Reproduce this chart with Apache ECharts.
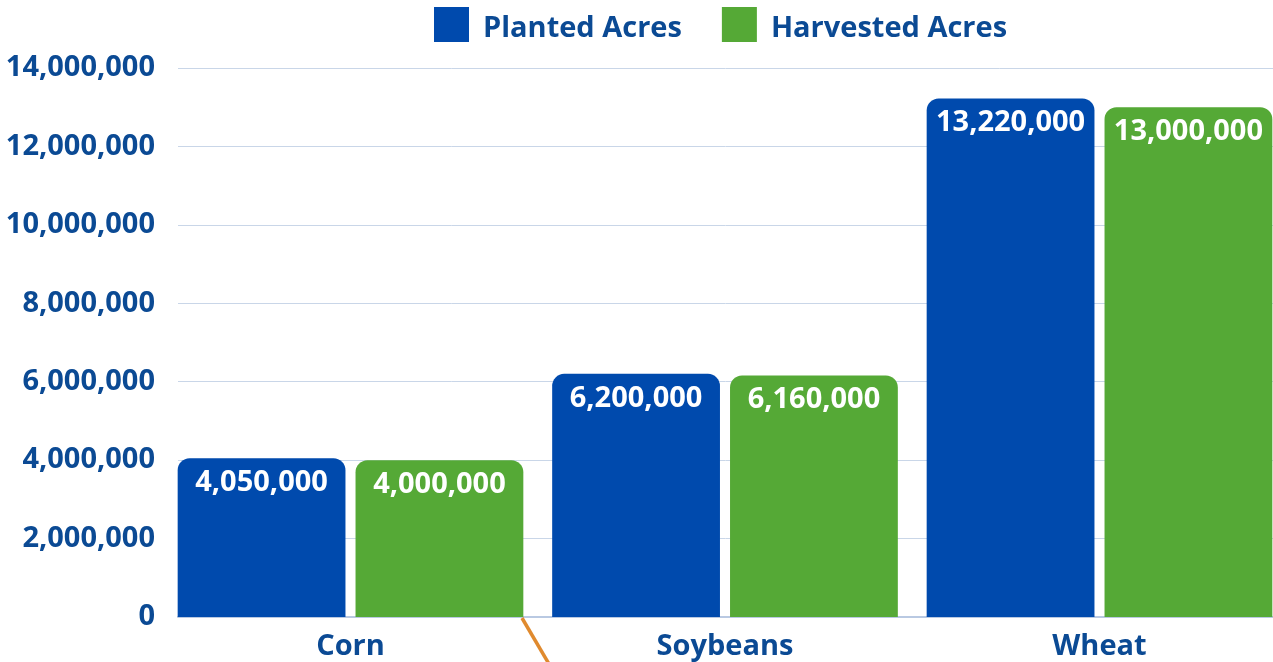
<!DOCTYPE html>
<html>
<head>
<meta charset="utf-8">
<script src="https://cdn.jsdelivr.net/npm/echarts@6/dist/echarts.min.js"></script>
<style>
  html, body { margin: 0; padding: 0; background: #ffffff; }
  #chart { width: 1273px; height: 662px; }
</style>
</head>
<body>
<div id="chart"></div>
<script>
// Crop acreage: planted vs. harvested
const categories = ['Corn', 'Soybeans', 'Wheat'];
const plantedAcres = [4050000, 6200000, 13220000];
const harvestedAcres = [4000000, 6160000, 13000000];
const yTicks = [0, 2000000, 4000000, 6000000, 8000000, 10000000, 12000000, 14000000];

const BLUE = '#004aad';
const GREEN = '#55a936';
const TEXT = '#0b4a94';
const FONT = '"Open Sans", "Noto Sans", sans-serif';
const FS = 29;

// square swatch sitting a little above the legend text's centre line
const SWATCH = 'path://M0,0h35v35h-35z M0,43h0.01v0.01h-0.01z';

const fmt = v => v.toLocaleString('en-US');

const chart = echarts.init(document.getElementById('chart'), null, { renderer: 'canvas' });

const barLabel = {
  show: true,
  position: 'insideTop',
  distance: 10,
  color: '#ffffff',
  fontFamily: FONT,
  fontWeight: 'bold',
  fontSize: FS,
  formatter: p => fmt(p.value)
};

chart.setOption({
  animation: false,
  backgroundColor: '#ffffff',
  legend: {
    left: 434,
    top: 7,
    padding: 0,
    itemWidth: 35,
    itemHeight: 43.01,
    itemGap: 40,
    icon: SWATCH,
    textStyle: {
      color: TEXT,
      fontFamily: FONT,
      fontWeight: 'bold',
      fontSize: FS,
      padding: [0, 0, 0, 9]
    },
    data: ['Planted Acres', 'Harvested Acres']
  },
  grid: [
    // bars: categories sit on points from the first to the last centre
    { left: 350.5, right: 173.5, top: 68, bottom: 45, containLabel: false },
    // value scale and gridlines
    { left: 178, right: 0, top: 68, bottom: 45, containLabel: false }
  ],
  xAxis: [
    {
      type: 'category',
      gridIndex: 0,
      data: categories,
      boundaryGap: false,
      axisLine: { show: false },
      axisTick: { show: false },
      axisLabel: {
        margin: 15,
        color: TEXT,
        fontFamily: FONT,
        fontWeight: 'bold',
        fontSize: FS
      }
    },
    {
      type: 'value',
      gridIndex: 1,
      min: 0,
      max: 1,
      axisTick: { show: false },
      axisLabel: { show: false },
      splitLine: { show: false },
      axisLine: { show: true, onZero: false, lineStyle: { color: '#b9c9e2', width: 2 } }
    }
  ],
  yAxis: [
    {
      type: 'value',
      gridIndex: 0,
      min: 0,
      max: 14000000,
      interval: 2000000,
      show: false,
      splitLine: { show: false }
    },
    {
      type: 'value',
      gridIndex: 1,
      min: 0,
      max: 14000000,
      interval: 2000000,
      axisLine: { show: false },
      axisTick: { show: false },
      splitLine: { show: true, lineStyle: { color: '#c9d6e8', width: 1 } },
      axisLabel: {
        margin: 23,
        color: TEXT,
        fontFamily: FONT,
        fontWeight: 'bold',
        fontSize: FS,
        formatter: v => (yTicks.includes(v) ? fmt(v) : '')
      }
    }
  ],
  series: [
    {
      name: 'Planted Acres',
      type: 'bar',
      xAxisIndex: 0,
      yAxisIndex: 0,
      data: plantedAcres,
      clip: false,
      barGap: '6%',
      barCategoryGap: '7.7%',
      itemStyle: { color: BLUE, borderRadius: [12, 12, 0, 0] },
      label: barLabel,
      z: 3
    },
    {
      name: 'Harvested Acres',
      type: 'bar',
      xAxisIndex: 0,
      yAxisIndex: 0,
      data: harvestedAcres,
      clip: false,
      barGap: '6%',
      barCategoryGap: '7.7%',
      itemStyle: { color: GREEN, borderRadius: [12, 12, 0, 0] },
      label: barLabel,
      z: 3
    }
  ],
  graphic: [
    {
      // orange callout stroke leaving the plot below the axis
      type: 'line',
      z: 10,
      shape: { x1: 522, y1: 618, x2: 549, y2: 664 },
      style: { stroke: '#e08a2e', lineWidth: 3.5 }
    }
  ]
});
</script>
</body>
</html>
